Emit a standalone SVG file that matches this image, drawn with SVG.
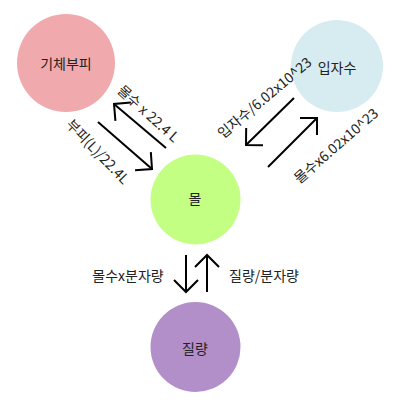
<svg xmlns="http://www.w3.org/2000/svg" width="411" height="405" viewBox="0 0 411 405">
<style>
text{font-family:"Noto Sans CJK KR","Noto Sans",sans-serif;font-size:14px;fill:#222;text-anchor:middle;dominant-baseline:central}
.conn line{stroke:#000;stroke-width:2;marker-end:url(#ah)}
</style>
<defs>
<marker id="ah" markerUnits="userSpaceOnUse" orient="auto" refX="0" refY="0" markerWidth="30" markerHeight="30" viewBox="-15 -15 30 30" overflow="visible">
<path d="M-12,-12 L0,0 L-12,12" fill="none" stroke="#000" stroke-width="2"/>
</marker>
</defs>
<rect width="411" height="405" fill="#fff"/>
<g id="node-gas">
<circle cx="66" cy="63" r="49" fill="#f0aaae"/>
<text x="66" y="63">기체부피</text>
</g>
<g id="node-particle">
<circle cx="337" cy="66" r="46" fill="#d7ecf1"/>
<text x="337" y="67">입자수</text>
</g>
<g id="node-mol">
<circle cx="195.5" cy="199.5" r="45" fill="#c2ff82"/>
<text x="195" y="198">몰</text>
</g>
<g id="node-mass">
<circle cx="195.5" cy="347" r="45" fill="#b38fc9"/>
<text x="195" y="348">질량</text>
</g>
<g id="connectors" class="conn">
<line x1="166" y1="148" x2="114" y2="104"/>
<line x1="98" y1="122" x2="152" y2="169"/>
<line x1="294" y1="98" x2="246" y2="145"/>
<line x1="268" y1="167" x2="317" y2="118"/>
<line x1="186" y1="255" x2="186" y2="292"/>
<line x1="207" y1="292" x2="207" y2="255"/>
</g>
<g id="labels">
<text transform="translate(149,113) rotate(42)">몰수 x 22.4 L</text>
<text transform="translate(98.5,151) rotate(46)">부피(L)/22.4L</text>
<text transform="translate(264,97) rotate(-40)">입자수/6.02x10^23</text>
<text transform="translate(335.5,145) rotate(-41)">몰수x6.02x10^23</text>
<text x="128" y="275">몰수x분자량</text>
<text x="264" y="275">질량/분자량</text>
</g>
</svg>
